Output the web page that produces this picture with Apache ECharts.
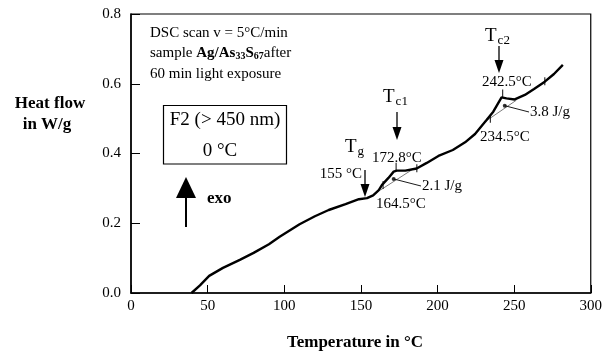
<!DOCTYPE html>
<html>
<head>
<meta charset="utf-8">
<script src="https://cdn.jsdelivr.net/npm/echarts@6/dist/echarts.min.js"></script>
<style>
  html, body { margin: 0; padding: 0; background: #fff; }
  #chart { width: 605px; height: 354px; }
</style>
</head>
<body>
<div id="chart"></div>
<script>
// DSC trace: temperature (°C) and heat flow (W/g)
const temperature = [39.5, 45, 51, 60, 71, 80, 90, 97, 110, 120, 129, 140, 148.7, 154, 158, 161.7, 163.8, 168, 171.4, 173.4, 179, 186.4, 193, 200.6, 210, 218, 224.5, 232, 236.4, 241.8, 245, 250.4, 257, 263, 270, 276, 281.8];
const heatFlow    = [0.0, 0.022, 0.049, 0.072, 0.095, 0.115, 0.14, 0.161, 0.197, 0.22, 0.238, 0.255, 0.269, 0.272, 0.28, 0.295, 0.31, 0.33, 0.348, 0.351, 0.351, 0.357, 0.373, 0.393, 0.41, 0.432, 0.456, 0.496, 0.52, 0.561, 0.558, 0.555, 0.568, 0.585, 0.606, 0.628, 0.654];

// Extrapolated baselines under the two crystallisation steps
const baselineTc1 = [[162.7, 0.295], [183.2, 0.353]];
const baselineTc2 = [[231.0, 0.491], [251.5, 0.553]];

// Onset / peak / end markers on the trace
const markerTemps = [164.5, 173.0, 186.5, 234.5, 242.5, 270.0];
const markerFlows = [0.31, 0.362, 0.358, 0.5, 0.572, 0.607];

// Points where the enthalpy values are read
const enthalpyPoints = [[171.4, 0.327], [243.9, 0.537]];
const enthalpyLabels = ['2.1 J/g', '3.8 J/g'];

// Axis ticks
const xTicks = [0, 50, 100, 150, 200, 250, 300];
const yTicks = [0.0, 0.2, 0.4, 0.6, 0.8];

const serif = '"Liberation Serif", "Times New Roman", serif';
const curve = temperature.map((t, i) => [t, heatFlow[i]]);
const markers = markerTemps.map((t, i) => [t, markerFlows[i]]);

const chart = echarts.init(document.getElementById('chart'));

const axisText = { color: '#000', fontFamily: serif, fontSize: 15 };

chart.setOption({
  animation: false,
  grid: { left: 131, right: 12, top: 14, bottom: 61, show: true, borderColor: '#000', borderWidth: 1.2 },
  xAxis: {
    type: 'value', min: xTicks[0], max: xTicks[xTicks.length - 1], interval: xTicks[1] - xTicks[0],
    axisLine: { lineStyle: { color: '#000', width: 1.5 } },
    axisTick: { inside: true, length: 8, lineStyle: { color: '#000', width: 1 } },
    axisLabel: Object.assign({ margin: 6 }, axisText),
    splitLine: { show: false }
  },
  yAxis: {
    type: 'value', min: yTicks[0], max: yTicks[yTicks.length - 1], interval: yTicks[1] - yTicks[0],
    axisLine: { lineStyle: { color: '#000', width: 1.5 } },
    axisTick: { inside: true, length: 9, lineStyle: { color: '#000', width: 1 } },
    axisLabel: Object.assign({ margin: 10, formatter: v => v.toFixed(1) }, axisText),
    splitLine: { show: false }
  },
  series: [
    {
      type: 'line', data: curve, showSymbol: false, smooth: false,
      lineStyle: { color: '#000', width: 2.4 }, z: 5
    },
    {
      type: 'line', data: baselineTc1, showSymbol: false,
      lineStyle: { color: '#444', width: 0.7 }, z: 4
    },
    {
      type: 'line', data: baselineTc2, showSymbol: false,
      lineStyle: { color: '#444', width: 0.7 }, z: 4
    },
    {
      type: 'scatter', data: markers, symbol: 'rect', symbolSize: [1.2, 8],
      itemStyle: { color: '#000' }, z: 6
    },
    {
      type: 'scatter', data: enthalpyPoints, symbol: 'circle', symbolSize: 4,
      itemStyle: { color: '#000' }, z: 6
    }
  ]
});

function txt(x, y, text, opts) {
  opts = opts || {};
  return {
    type: 'text', x: x, y: y, z: 10,
    style: {
      text: text,
      fill: '#000',
      font: (opts.weight || 'normal') + ' ' + (opts.size || 15) + 'px ' + serif,
      align: opts.align || 'center',
      verticalAlign: 'middle',
      rich: opts.rich
    }
  };
}

// Vertical arrow from yTail to yTip (works pointing up or down)
function arrow(x, yTail, yTip, headLen, headW, shaftW) {
  const dir = yTip > yTail ? 1 : -1;
  const base = yTip - dir * headLen;
  return {
    type: 'group', z: 10,
    children: [
      { type: 'line', shape: { x1: x, y1: yTail, x2: x, y2: base + dir }, style: { stroke: '#000', lineWidth: shaftW || 1.3 } },
      { type: 'polygon', shape: { points: [[x - headW / 2, base], [x + headW / 2, base], [x, yTip]] }, style: { fill: '#000' } }
    ]
  };
}

const richT = {
  t: { fontFamily: serif, fontSize: 19, fill: '#000' },
  s: { fontFamily: serif, fontSize: 13, fill: '#000', padding: [9, 0, 0, 1] }
};
const richSample = {
  n: { fontFamily: serif, fontSize: 15, fill: '#000' },
  b: { fontFamily: serif, fontSize: 15, fontWeight: 'bold', fill: '#000' },
  bs: { fontFamily: serif, fontSize: 10, fontWeight: 'bold', fill: '#000', padding: [6, 0, 0, 0] }
};

const leaders = enthalpyPoints.map((p, i) => {
  const a = chart.convertToPixel({ gridIndex: 0 }, p);
  const tx = i === 0 ? 421 : 529;
  const ty = i === 0 ? 186 : 112;
  return { type: 'line', z: 9, shape: { x1: a[0], y1: a[1], x2: tx, y2: ty }, style: { stroke: '#000', lineWidth: 0.9 } };
});

chart.setOption({
  graphic: [
    txt(150, 33, 'DSC scan v = 5°C/min', { align: 'left' }),
    txt(150, 53, '{n|sample }{b|Ag/As}{bs|33}{b|S}{bs|67}{n|after}', { align: 'left', rich: richSample }),
    txt(150, 74, '60 min light exposure', { align: 'left' }),

    txt(345, 147, '{t|T}{s|g}', { align: 'left', rich: richT }),
    txt(383, 97, '{t|T}{s|c1}', { align: 'left', rich: richT }),
    txt(485, 36, '{t|T}{s|c2}', { align: 'left', rich: richT }),
    arrow(365, 170, 197, 13, 9),
    arrow(397, 112, 140, 13, 9),
    arrow(499, 46, 73, 13, 9),

    txt(341, 174, '155 °C'),
    txt(397, 158, '172.8°C'),
    txt(401, 204, '164.5°C'),
    txt(422, 186, enthalpyLabels[0], { align: 'left' }),
    txt(507, 82, '242.5°C'),
    txt(505, 137, '234.5°C'),
    txt(530, 112, enthalpyLabels[1], { align: 'left' }),
  ].concat(leaders).concat([
    { type: 'rect', z: 9, shape: { x: 163.5, y: 105.5, width: 123, height: 58.5 }, style: { fill: '#fff', stroke: '#000', lineWidth: 1.2 } },
    txt(225, 120, 'F2 (> 450 nm)', { size: 19 }),
    txt(220, 151, '0 °C', { size: 19 }),

    arrow(186, 227, 177, 21, 20, 2),
    txt(207, 199, 'exo', { align: 'left', size: 17, weight: 'bold' }),

    txt(50, 104, 'Heat flow', { size: 17, weight: 'bold' }),
    txt(47, 125, 'in W/g', { size: 17, weight: 'bold' }),
    txt(355, 343, 'Temperature in °C', { size: 17, weight: 'bold' })
  ])
});
</script>
</body>
</html>
